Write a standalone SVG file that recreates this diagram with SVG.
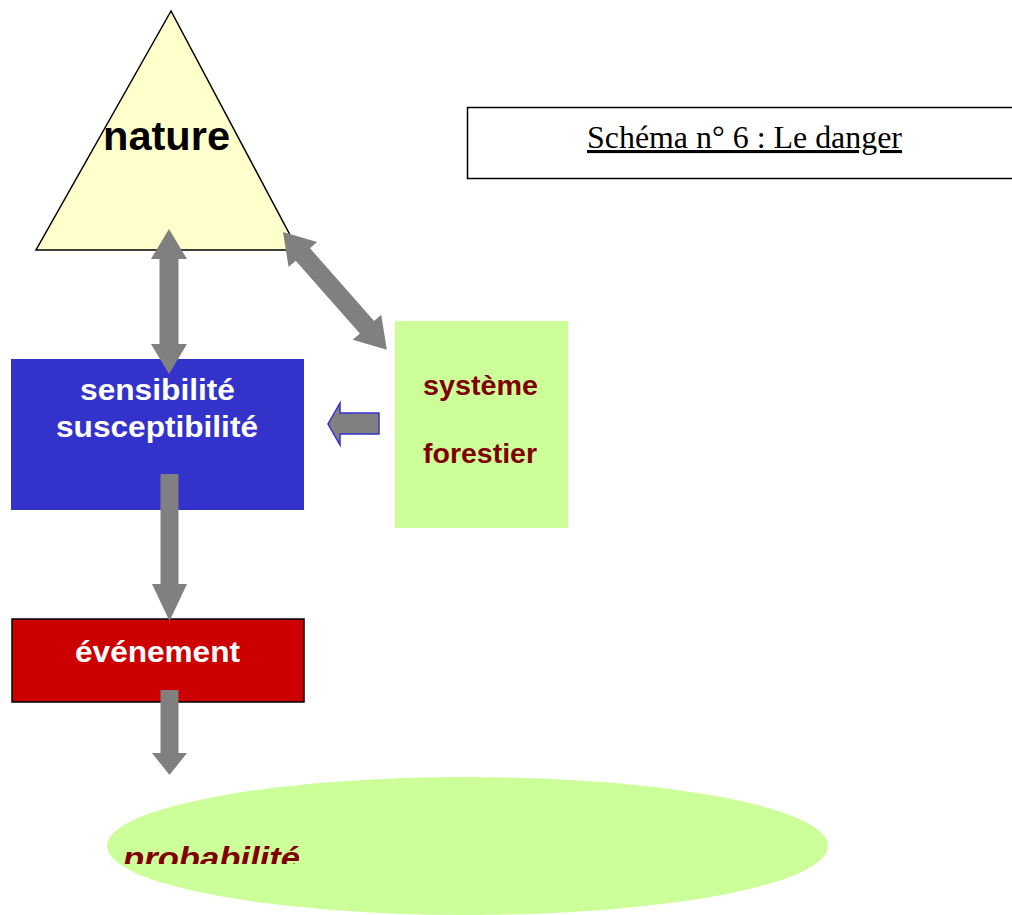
<svg xmlns="http://www.w3.org/2000/svg" width="1012" height="915" viewBox="0 0 1012 915">
  <style>
    .lbl { font-family: "Liberation Sans", Arial, sans-serif; font-weight: bold; }
    .white { fill: #ffffff; }
    .maroon { fill: #800000; }
    .conn { fill: #808080; }
  </style>
  <defs>
    <clipPath id="probClip">
      <rect x="100" y="770" width="740" height="94"/>
    </clipPath>
  </defs>
  <rect x="0" y="0" width="1012" height="915" fill="#ffffff"/>

  <!-- title frame -->
  <g id="title">
    <rect x="467.5" y="107.5" width="560" height="71" fill="#ffffff" stroke="#000000" stroke-width="1.5"/>
    <text x="587" y="148" font-family="'Liberation Serif', 'Times New Roman', serif" font-size="31" fill="#000000" textLength="315" lengthAdjust="spacingAndGlyphs" text-decoration="underline">Schéma n° 6 : Le danger</text>
  </g>

  <!-- nature -->
  <g id="nature">
    <polygon points="171,11 36,250 298,250" fill="#ffffcc" stroke="#000000" stroke-width="1.5" stroke-linejoin="miter"/>
    <text class="lbl" x="103" y="150" font-size="40" fill="#000000" textLength="127" lengthAdjust="spacingAndGlyphs">nature</text>
  </g>

  <!-- sensibilité / susceptibilité -->
  <g id="sensibilite">
    <rect x="11" y="359" width="293" height="151" fill="#3333cc"/>
    <text class="lbl white" x="80" y="400" font-size="30" textLength="155" lengthAdjust="spacingAndGlyphs">sensibilité</text>
    <text class="lbl white" x="56" y="437" font-size="30" textLength="202" lengthAdjust="spacingAndGlyphs">susceptibilité</text>
  </g>

  <!-- système forestier -->
  <g id="systeme">
    <rect x="395" y="321" width="173" height="207" fill="#ccff99"/>
    <text class="lbl maroon" x="423" y="395" font-size="27" textLength="115" lengthAdjust="spacingAndGlyphs">système</text>
    <text class="lbl maroon" x="423" y="463" font-size="27" textLength="114" lengthAdjust="spacingAndGlyphs">forestier</text>
  </g>

  <!-- événement -->
  <g id="evenement">
    <rect x="12" y="619" width="292" height="83" fill="#cc0000" stroke="#000000" stroke-width="1.5"/>
    <text class="lbl white" x="75" y="662" font-size="30" textLength="165" lengthAdjust="spacingAndGlyphs">événement</text>
  </g>

  <!-- probabilité -->
  <g id="probabilite">
    <ellipse cx="467.5" cy="846" rx="360.5" ry="69" fill="#ccff99"/>
    <text class="lbl maroon" x="123" y="869" font-size="32" font-style="italic" textLength="177" lengthAdjust="spacingAndGlyphs" clip-path="url(#probClip)">probabilité</text>
  </g>

  <!-- connectors -->
  <g id="connectors">
    <!-- nature <-> sensibilité -->
    <polygon class="conn" points="169,229 187,259 178.5,259 178.5,344 187,344 169,374 151,344 159.5,344 159.5,259 151,259"/>
    <!-- nature <-> système forestier -->
    <polygon class="conn" transform="translate(283,232) rotate(48.6)" points="0,0 30,-19 30,-9.5 127,-9.5 127,-19 157,0 127,19 127,9.5 30,9.5 30,19"/>
    <!-- système forestier -> sensibilité -->
    <polygon points="379,413 379,434 340,434 340,445 328,424 340,403 340,413" fill="#808080" stroke="#3333cc" stroke-width="1.5" stroke-linejoin="miter"/>
    <!-- sensibilité -> événement -->
    <polygon class="conn" points="160.5,474 178.5,474 178.5,584 187,584 169.5,621 152,584 160.5,584"/>
    <!-- événement -> probabilité -->
    <polygon class="conn" points="160.5,690 178.5,690 178.5,753 187,753 169.5,775 152,753 160.5,753"/>
  </g>
</svg>
